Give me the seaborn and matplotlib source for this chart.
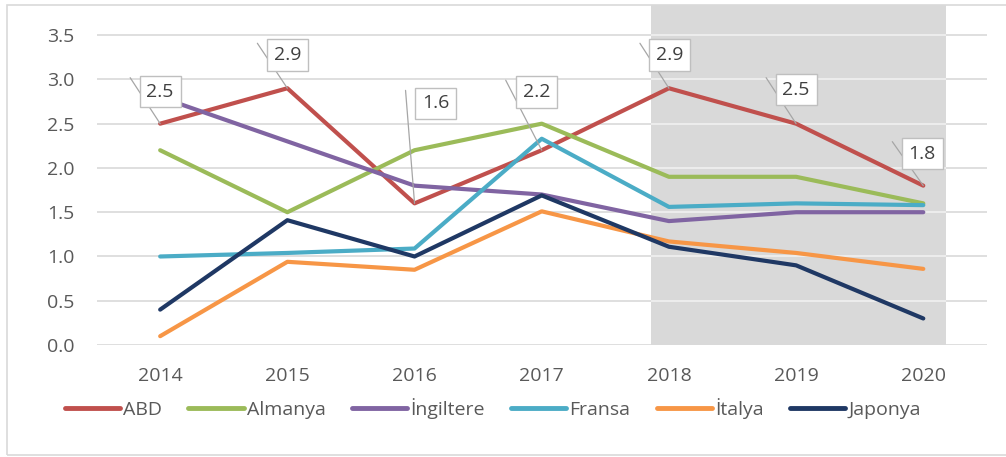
import pandas as pd
import matplotlib.pyplot as plt
import seaborn as sns
from matplotlib.patches import Rectangle
from matplotlib.lines import Line2D

years = [2014, 2015, 2016, 2017, 2018, 2019, 2020]
abd = [2.5, 2.9, 1.6, 2.2, 2.9, 2.5, 1.8]
almanya = [2.2, 1.5, 2.2, 2.5, 1.9, 1.9, 1.6]
ingiltere = [2.8, 2.3, 1.8, 1.7, 1.4, 1.5, 1.5]
fransa = [1.0, 1.04, 1.09, 2.33, 1.56, 1.6, 1.58]
italya = [0.1, 0.94, 0.85, 1.51, 1.17, 1.04, 0.86]
japonya = [0.4, 1.41, 1.0, 1.69, 1.11, 0.9, 0.3]

countries = ['ABD', 'Almanya', 'İngiltere', 'Fransa', 'İtalya', 'Japonya']
colors = ['#C0504D', '#9BBB59', '#8064A2', '#4BACC6', '#F79646', '#1F3864']
yticks = [0.0, 0.5, 1.0, 1.5, 2.0, 2.5, 3.0, 3.5]
shade_from, shade_to = 2017.86, 2020.18

df = pd.DataFrame({'Yıl': years * 6,
                   'Ülke': [c for c in countries for _ in years],
                   'Değer': abd + almanya + ingiltere + fransa + italya + japonya})

sns.set_style('white')
plt.rcParams['font.family'] = ['Open Sans', 'DejaVu Sans']

fig = plt.figure(figsize=(10.06, 4.57), dpi=100)
ax = fig.add_axes([0.096, 0.245, 0.885, 0.744])

# outer chart border
fig.patches.append(Rectangle((0.007, 0.004), 1.0, 0.985, transform=fig.transFigure,
                             fill=False, edgecolor='#D9D9D9', lw=1.2))

ax.axvspan(shade_from, shade_to, color='#D9D9D9', zorder=0.5, lw=0)
ax.hlines(yticks[1:], shade_from, shade_to, color='#F0F0F0', lw=1.2, zorder=0.6)

sns.lineplot(data=df, x='Yıl', y='Değer', hue='Ülke', palette=colors,
             linewidth=3, ax=ax, legend=False, zorder=3)

ax.set_xlim(2013.5, 2020.5)
ax.set_ylim(0, 3.84)
ax.set_yticks(yticks)
ax.set_yticklabels([f'{v:.1f}' for v in yticks])
ax.set_xticks(years)
ax.set_xticklabels([str(y) for y in years])
ax.grid(axis='y', color='#D9D9D9', lw=1.2, zorder=0.4)
ax.set_axisbelow(True)
for s in ax.spines.values():
    s.set_visible(False)
ax.tick_params(axis='both', colors='#595959', labelsize=14, length=0)
ax.tick_params(axis='x', pad=16)
ax.tick_params(axis='y', pad=16)
ax.set_xlabel('')
ax.set_ylabel('')
ax.patch.set_alpha(0)

# data labels for ABD with leader lines
box_off = [(0, 32), (0, 33), (21, 100), (-5, 58), (1, 33), (0, 34), (-1, 32)]
lead_off = [(-30, 46), (-30, 45), (-9, 113), (-36, 70), (-29, 45), (-30, 46), (-31, 44)]
for yr, v, bo, lo in zip(years, abd, box_off, lead_off):
    ax.annotate('', xy=(yr, v), xytext=lo, textcoords='offset pixels',
                arrowprops=dict(arrowstyle='-', color='#A6A6A6', lw=0.9,
                                shrinkA=0, shrinkB=0), zorder=4)
    ax.annotate(f'{v:.1f}', xy=(yr, v), xytext=bo, textcoords='offset pixels',
                ha='center', va='center', fontsize=14, color='#404040', zorder=5,
                bbox=dict(boxstyle='square,pad=0.35', fc='white', ec='#BFBFBF', lw=1))

handles = [Line2D([], [], color=c, lw=3.5) for c in colors]
ax.legend(handles, countries, loc='upper center', bbox_to_anchor=(0.445, -0.105),
          ncol=6, frameon=False, fontsize=14, handlelength=2.85, handletextpad=0.15,
          columnspacing=1.35, labelcolor='#595959')

fig.savefig('out.png', dpi=100)
